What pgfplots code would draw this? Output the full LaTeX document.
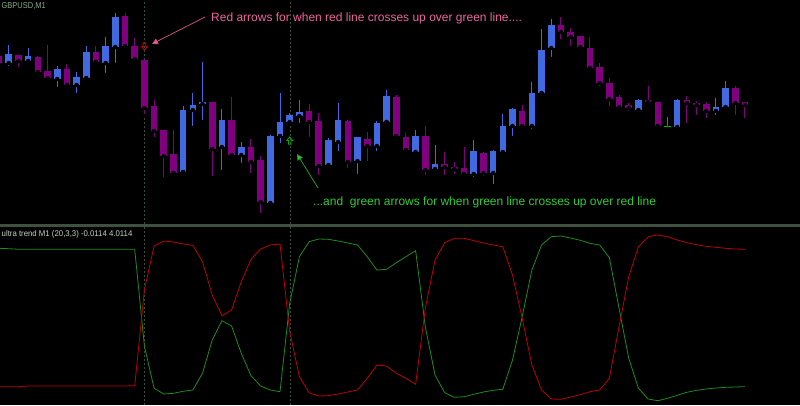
\documentclass[border=0pt]{standalone}
\usepackage{pgfplots}
\pgfplotsset{compat=1.18}
\usepackage{pgfplotstable}
\usepackage{fontspec}
\setmainfont{Liberation Sans}
\usetikzlibrary{arrows.meta}

\definecolor{bullc}{RGB}{65,105,225}
\definecolor{bearc}{RGB}{128,0,128}
\definecolor{dojic}{RGB}{0,180,0}
\definecolor{upline}{RGB}{30,140,30}
\definecolor{dnline}{RGB}{190,0,0}
\definecolor{sepc}{RGB}{64,80,64}
\definecolor{vlinec}{RGB}{50,80,65}
\definecolor{pinkc}{RGB}{238,100,160}
\definecolor{pinkln}{RGB}{200,80,130}
\definecolor{limec}{RGB}{50,205,50}
\definecolor{labc}{RGB}{200,210,195}
\definecolor{symc}{RGB}{140,170,140}
\definecolor{sigred}{RGB}{210,0,0}
\definecolor{siggreen}{RGB}{0,170,0}

% GBPUSD M1 bars, x = bar index, prices in chart units
\pgfplotstableread{
x o h l c
1 161 179 156 170
3 163 176 159 168
6 145 158 135 155
8 139 152 129 147
9 146 178 145 172
11 161 187 149 178
12 177 211 159 207
19 52 118 52 114
20 114 131 96 119
21 120 162 102 122
23 77 115 52 104
25 69 82 59 77
28 21 89 20 88
29 88 131 79 102
30 102 111 100 109
31 108 124 99 112
34 59 86 55 84
35 82 121 71 104
37 63 87 48 87
39 78 103 71 101
40 102 134 102 128
43 72 94 71 88
45 55 79 51 60
49 50 84 45 73
51 51 74 38 73
52 72 110 69 98
53 98 116 86 115
55 98 142 93 131
56 131 195 130 174
57 176 205 165 199
66 114 125 112 124
70 97 125 95 124
74 113 126 107 117
75 117 143 114 136
}\bull

\pgfplotstableread{
x o h l c
0 168 170 159 161
2 169 169 155 163
4 167 168 151 152
5 153 179 144 146
7 155 160 139 139
10 172 178 162 162
13 208 211 176 178
14 178 186 164 165
15 164 164 108 116
16 118 124 85 93
17 94 94 45 68
18 70 94 51 51
22 122 122 46 75
24 104 127 67 69
26 77 85 49 62
27 64 68 9 22
32 113 120 85 102
33 103 111 47 58
36 103 104 54 62
38 85 92 61 78
41 127 129 86 88
42 87 91 71 74
44 88 98 47 54
46 60 72 47 57
47 57 62 48 55
48 56 77 50 50
50 71 72 46 51
54 113 119 97 98
58 199 207 183 192
59 192 196 176 187
60 188 188 175 177
61 176 187 152 156
62 157 161 136 141
63 141 146 116 125
64 127 129 114 117
65 119 121 111 116
67 124 138 120 122
68 122 122 94 98
71 124 128 99 121
72 121 123 107 119
73 120 122 104 113
76 136 138 107 121
77 122 122 104 119
}\bear

% ultra trend (20,3,3): g = green line, r = red line
\pgfplotstableread{
x g r
0 156.7 18.3
1 156.3 18.3
2 155.7 18.3
3 155.7 19.0
4 155.7 19.0
5 155.7 19.0
6 155.7 19.0
7 155.7 19.0
8 155.7 19.0
9 155.7 19.0
10 155.7 19.0
11 155.7 19.0
12 155.7 19.0
13 155.7 19.0
14 155.7 19.3
15 59.0 115.0
16 16.7 159.0
17 11.0 164.0
18 11.7 163.0
19 13.7 161.0
20 15.0 159.7
21 31.7 143.3
22 65.0 110.0
23 84.3 89.3
24 79.0 95.0
25 51.7 123.3
26 29.3 145.7
27 19.0 156.0
28 15.0 160.0
29 13.3 161.0
30 101.7 73.3
31 148.3 28.3
32 163.3 12.3
33 166.0 9.0
34 165.7 9.3
35 164.0 11.0
36 162.0 13.0
37 160.0 15.0
38 148.3 26.7
39 135.0 40.0
40 135.7 39.0
41 142.3 31.7
42 148.3 26.7
43 154.3 20.7
44 78.3 96.7
45 30.0 145.0
46 12.3 162.3
47 7.7 166.7
48 8.3 166.7
49 10.7 164.3
50 13.0 162.0
51 14.7 160.0
52 15.7 158.3
53 45.0 130.0
54 88.3 86.7
55 135.0 40.0
56 160.0 15.0
57 168.3 6.0
58 169.0 5.7
59 167.0 8.0
60 164.7 10.3
61 161.7 13.3
62 160.0 15.0
63 147.3 26.7
64 96.7 78.3
65 46.7 128.3
66 16.7 158.3
67 6.0 168.3
68 4.3 170.0
69 6.7 168.3
70 9.7 165.0
71 12.7 162.3
72 14.7 160.3
73 16.0 158.7
74 17.0 157.7
75 17.7 156.7
76 18.0 156.0
77 18.3 155.7
}\ind

% hollow signal arrows
\pgfdeclareplotmark{dnarr}{%
  \pgfpathmoveto{\pgfpoint{-1.3pt}{3.8pt}}%
  \pgfpathlineto{\pgfpoint{1.3pt}{3.8pt}}%
  \pgfpathlineto{\pgfpoint{1.3pt}{0pt}}%
  \pgfpathlineto{\pgfpoint{3pt}{0pt}}%
  \pgfpathlineto{\pgfpoint{0pt}{-3.6pt}}%
  \pgfpathlineto{\pgfpoint{-3pt}{0pt}}%
  \pgfpathlineto{\pgfpoint{-1.3pt}{0pt}}%
  \pgfpathclose
  \pgfusepathqstroke}
\pgfdeclareplotmark{uparr}{%
  \pgfpathmoveto{\pgfpoint{-1.3pt}{-3.8pt}}%
  \pgfpathlineto{\pgfpoint{1.3pt}{-3.8pt}}%
  \pgfpathlineto{\pgfpoint{1.3pt}{0pt}}%
  \pgfpathlineto{\pgfpoint{3pt}{0pt}}%
  \pgfpathlineto{\pgfpoint{0pt}{3.6pt}}%
  \pgfpathlineto{\pgfpoint{-3pt}{0pt}}%
  \pgfpathlineto{\pgfpoint{-1.3pt}{0pt}}%
  \pgfpathclose
  \pgfusepathqstroke}

\pgfplotsset{
  mtpanel/.style={scale only axis, width=800pt, anchor=south west,
    xmin=0.093, xmax=82.68, hide axis, clip=true},
  candle/.style={only marks, mark=none,
    error bars/.cd, y dir=plus, y explicit, error mark=none},
  vdot/.style={vlinec, line width=0.8pt, dash pattern=on 2pt off 2pt},
}

\begin{document}
\begin{tikzpicture}
\useasboundingbox (0,0) rectangle (800pt,405pt);
\fill[black] (0,0) rectangle (800pt,405pt);

% price panel
\begin{axis}[mtpanel, at={(0,181pt)}, height=224pt, ymin=0, ymax=224]
\addplot[vdot] coordinates {(15,0) (15,224)};
\addplot[vdot] coordinates {(30.03,0) (30.03,224)};
% wicks
\addplot[candle, error bar style={line width=1pt, draw=bullc}]
  table[x=x, y=l, y error plus expr=\thisrow{h}-\thisrow{l}] {\bull};
\addplot[candle, error bar style={line width=1pt, draw=bearc}]
  table[x=x, y=l, y error plus expr=\thisrow{h}-\thisrow{l}] {\bear};
% bodies
\addplot[candle, error bar style={line width=6.6pt, draw=bullc}]
  table[x=x, y=o, y error plus expr=\thisrow{c}-\thisrow{o}] {\bull};
\addplot[candle, error bar style={line width=6.6pt, draw=bearc}]
  table[x=x, y=c, y error plus expr=\thisrow{o}-\thisrow{c}] {\bear};
% doji bar
\addplot[candle, error bar style={line width=1pt, draw=dojic}]
  coordinates {(69,96) +- (0,11)};
\addplot[only marks, mark=-, mark size=3.3pt, dojic, mark options={line width=1pt}]
  coordinates {(69,97.5)};
% signals
\addplot[only marks, sigred, mark=dnarr, line width=0.8pt] coordinates {(15,177.5)};
\addplot[only marks, siggreen, mark=uparr, line width=0.8pt] coordinates {(30,83.5)};
\end{axis}

% indicator panel
\begin{axis}[mtpanel, at={(0,0)}, height=178pt, ymin=0, ymax=178]
\addplot[vdot] coordinates {(15,0) (15,178)};
\addplot[vdot] coordinates {(30.03,0) (30.03,178)};
\addplot[upline, line width=0.8pt] table[x=x, y=g] {\ind};
\addplot[dnline, line width=0.8pt] table[x=x, y=r] {\ind};
\end{axis}

\fill[sepc] (0,178pt) rectangle (800pt,181pt);

\begin{scope}[shift={(0pt,405pt)}, x=1pt, y=-1pt]
\node[anchor=base west, inner sep=0pt, text=symc, font=\fontsize{8.5}{9}\selectfont, xscale=0.88]
  at (1.5,8.7) {GBPUSD,M1};
\node[anchor=base west, inner sep=0pt, text=labc, font=\fontsize{8.3}{9}\selectfont, xscale=0.94]
  at (1.5,236.8) {ultra trend M1 (20,3,3) -0.0114 4.0114};
\node[anchor=base west, inner sep=0pt, text=pinkc, font=\fontsize{12}{14}\selectfont]
  at (211,21.7) {Red arrows for when red line crosses up over green line....};
\node[anchor=base west, inner sep=0pt, text=limec, font=\fontsize{12}{14}\selectfont]
  at (313,205) {...and~ green arrows for when green line crosses up over red line};
\draw[pinkln, line width=0.8pt, -{Triangle[length=6pt, width=6pt, fill=pinkc]}]
  (205,17) -- (152,44);
\draw[limec!75!black, line width=0.8pt, -{Triangle[length=6pt, width=6pt, fill=limec]}]
  (318,188) -- (297,154);
\end{scope}
\end{tikzpicture}
\end{document}
